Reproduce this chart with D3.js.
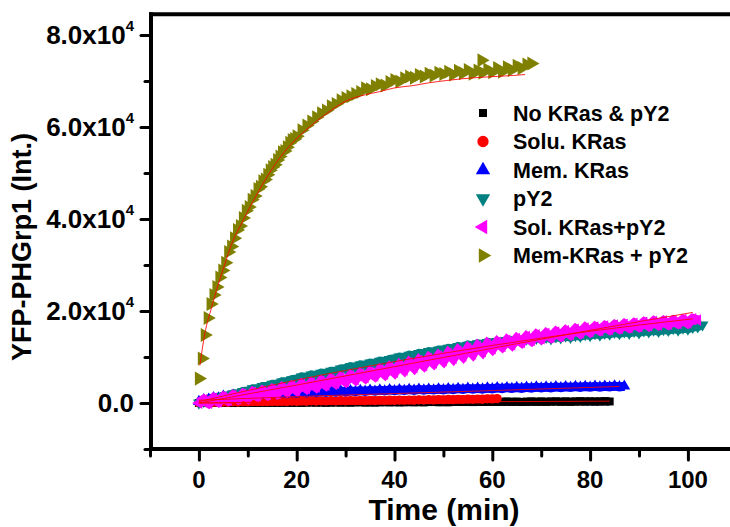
<!DOCTYPE html>
<html><head><meta charset="utf-8">
<script src="https://cdn.jsdelivr.net/npm/d3@7"></script>
<style>
html,body{margin:0;padding:0;background:#fff;}
svg{display:block;font-family:Arial,"Liberation Sans",sans-serif;font-weight:bold;}
</style></head>
<body><svg id="c" width="730" height="527"></svg>
<script>
// ---- data (time in min = array index unless given) ----
const seriesNames = ["No KRas & pY2","Solu. KRas","Mem. KRas","pY2","Sol. KRas+pY2","Mem-KRas + pY2"];
const xTicks = [0,20,40,60,80,100];
const yTicks = [0,20000,40000,60000,80000];

const blackVals = [0,40,-30,20,60,10,50,-10,40,80,
 30,70,20,90,50,100,40,80,120,70,
 110,60,100,140,90,130,80,120,160,110,
 150,100,140,180,130,170,120,160,200,150,
 190,140,180,220,170,210,160,200,240,190,
 230,180,220,260,210,250,200,240,280,230,
 270,220,260,300,250,290,240,280,320,270,
 310,260,300,340,290,330,280,320,360,310,
 350,300,340,380,330];
const redVals = [0,100,50,170,120,220,160,260,200,290,
 240,320,270,350,300,370,320,400,350,420,
 370,440,390,460,410,480,430,500,450,520,
 470,540,490,560,510,580,530,600,550,620,
 570,640,590,660,610,690,640,720,670,750,
 700,780,730,810,760,840,790,870,830,910,
 880,960];
const blueVals = [300,700,800,1150,1100,1450,1350,1650,1520,1800,
 1660,1900,1750,2050,1880,2150,1960,2250,2050,2300,
 2150,2380,2200,2430,2270,2500,2320,2560,2380,2620,
 2420,2650,2470,2700,2520,2750,2570,2800,2620,2850,
 2670,2880,2710,2920,2750,2960,2790,3000,2830,3050,
 2870,3090,2910,3130,2950,3170,2990,3210,3030,3250,
 3070,3290,3110,3330,3150,3370,3190,3410,3230,3450,
 3270,3480,3300,3510,3330,3540,3360,3570,3390,3600,
 3420,3630,3450,3650,3480,3680,3500,3650];
const tealVals = [0,400,500,1000,1000,1500,1500,2000,2000,2500,
 2600,3100,3100,3600,3600,4100,4100,4600,4600,5100,
 5200,5700,5600,6100,6000,6500,6400,6900,6900,7400,
 7500,7900,7800,8300,8200,8700,8600,9100,9000,9500,
 9600,10000,9900,10400,10300,10800,10700,11200,11100,11500,
 11500,11900,11800,12300,12100,12600,12400,12900,12700,13200,
 13000,13400,13200,13600,13400,13800,13500,13900,13700,14100,
 13900,14300,14000,14400,14200,14600,14300,14700,14500,14900,
 14700,15100,14800,15200,15000,15400,15100,15500,15200,15600,
 15300,15700,15500,15900,15600,16000,15800,16200,15900,16300,
 16100,16500,16600,17000];
const pinkVals = [0,700,0,1000,300,1300,600,1600,900,1900,
 1100,2300,1500,2600,1800,2900,2100,3300,2500,3600,
 2800,4000,3200,4300,3500,4700,3900,5100,4300,5500,
 4700,5900,5100,6300,5500,6700,5900,7200,6300,7700,
 6700,8200,7200,8700,7700,9200,8200,9700,8700,10200,
 9200,10800,9700,11300,10200,11800,10700,12300,11200,12800,
 11800,13200,12300,13600,12700,14000,13200,14400,13600,14800,
 14000,15100,14300,15400,14600,15700,14900,16000,15200,16300,
 15500,16500,15800,16700,16000,16900,16200,17100,16400,17300,
 16600,17500,16800,17700,17000,17800,17100,17900,17300,18100,
 17400,18300,18000];
const oliveT = [0,0.6,1.2,1.8,2.4,3,3.6,4.2,4.8,5.4,6,6.6,7.2,7.8,8.4,9,9.6,10.2,10.8,11.4,
 12,12.5,13,13.5,14,14.5,15,15.5,16,16.5,17,17.5,18,18.5,19,19.5,20,21,22,23,24,25,26,27,28,29,30,31,32,33,34,35,36,37,38,39,40,
 41,42,43,44,45,46,47,48,49,50,51,52,53,54,55,56,57,57.8,58,59,60,61,62,63,64,65,66,67,68];
const oliveVals = [5300,9700,14800,18500,21500,23500,25200,27300,28800,30500,32800,34000,35800,37600,38500,40200,41800,42600,44200,45000,
 46500,47000,48200,48600,49600,50600,51300,51800,52800,53600,54500,54800,55600,56600,57200,57400,58000,59300,60300,61200,62100,63000,63600,64500,65000,65800,66300,66700,67200,67600,68400,68200,68900,69300,69000,69800,70200,
 69900,70600,71000,70700,71300,71000,71600,71200,71800,71500,72000,71400,72200,71700,72400,71600,72300,74500,71800,72500,71900,72800,72000,73000,72400,73300,72800,73600,73800];

// fit curves
const fitBlackT = [0,84], fitBlackV = [0,400];
const fitRedT = [0,61], fitRedV = [0,950];
const fitBlueT = [0,10,20,40,60,86], fitBlueV = [600,1000,1400,2050,2700,3600];
const fitTealT = [0,20,40,60,80,101], fitTealV = [300,5000,9000,12500,15600,18300];
const fitPinkT = [0,20,40,60,80,101], fitPinkV = [0,3900,7900,11900,15800,19700];
const fitOliveT = [0.2,1.2,2.6,4,5.3,6.7,8.7,10.8,13,16.6,20,23.4,27,30.2,34,37,40,43.8,47,50.6,54,57.5,61,64.3,66.7];
const fitOliveV = [8150,15000,20800,25900,30200,34600,39000,43300,47500,53400,57500,60700,63600,65700,67000,67700,68500,69000,69600,70100,70500,70800,71000,71200,71400];

const colors = ["#000000","#ff0000","#0000ff","#008080","#ff00ff","#808000"];

// ---- drawing ----
const svg = d3.select("#c");
const x = d3.scaleLinear().domain([-10,110]).range([150, 150+120*4.89]);
const y = d3.scaleLinear().domain([-10000,84500]).range([449,14.3]);

const byIndex = vals => vals.map((v,i)=>({t:i,v}));
const zip = (ts,vs) => ts.map((t,i)=>({t,v:vs[i]}));

const sym = (type,size,rot) => ({type,size,rot});
const markers = [
  sym(d3.symbolSquare,64,0),
  sym(d3.symbolCircle,66,0),
  sym(d3.symbolTriangle,60,0),
  sym(d3.symbolTriangle,60,180),
  sym(d3.symbolTriangle,60,-90),
  sym(d3.symbolTriangle,85,90)
];
const bandWidth = [8,8,9,9,10,0];
const data = [byIndex(blackVals),byIndex(redVals),byIndex(blueVals),byIndex(tealVals),byIndex(pinkVals),zip(oliveT,oliveVals)];

const plot = svg.append("g");
const rawLine = d3.line().x(p=>x(p.t)).y(p=>y(p.v));
data.forEach((d,k)=>{
  const m = markers[k];
  if (bandWidth[k] > 0) {
    plot.append("path").attr("d",rawLine(d)).attr("fill","none")
      .attr("stroke",colors[k]).attr("stroke-width",bandWidth[k]).attr("stroke-linejoin","miter");
  }
  const path = d3.symbol().type(m.type).size(m.size)();
  plot.append("g").selectAll("path").data(d).join("path")
    .attr("d",path)
    .attr("fill",colors[k])
    .attr("transform",p=>`translate(${x(p.t)},${y(p.v)}) rotate(${m.rot})`);
});

const fits = [zip(fitBlackT,fitBlackV),zip(fitRedT,fitRedV),zip(fitBlueT,fitBlueV),zip(fitTealT,fitTealV),zip(fitPinkT,fitPinkV),zip(fitOliveT,fitOliveV)];
const line = d3.line().x(p=>x(p.t)).y(p=>y(p.v)).curve(d3.curveMonotoneX);
fits.forEach(f=>{
  plot.append("path").attr("d",line(f)).attr("fill","none")
    .attr("stroke","#ff0000").attr("stroke-width",1).attr("stroke-opacity",0.85);
});

// axes
const yAxisG = svg.append("g").attr("transform","translate(151,0)");
yAxisG.call(d3.axisLeft(y).tickValues(d3.range(-10000,80001,10000)).tickSize(0).tickFormat(""));
yAxisG.select(".domain").remove();
yAxisG.selectAll(".tick line").attr("x1",d=> (d%20000===0? -10 : -6)).attr("x2",0)
  .attr("stroke","#000").attr("stroke-width",3).attr("stroke-linecap","round");
yAxisG.selectAll(".tick text").remove();

const xAxisG = svg.append("g").attr("transform","translate(0,449)");
xAxisG.call(d3.axisBottom(x).tickValues(d3.range(-10,101,10)).tickSize(0).tickFormat(""));
xAxisG.select(".domain").remove();
xAxisG.selectAll(".tick line").attr("y1",0).attr("y2",d=> (d%20===0? 11 : 7))
  .attr("stroke","#000").attr("stroke-width",3).attr("stroke-linecap","round");
xAxisG.selectAll(".tick text").remove();

// frame lines
svg.append("line").attr("x1",151).attr("x2",151).attr("y1",12.3).attr("y2",451).attr("stroke","#000").attr("stroke-width",4);
svg.append("line").attr("x1",149).attr("x2",730).attr("y1",449).attr("y2",449).attr("stroke","#000").attr("stroke-width",4);
svg.append("line").attr("x1",149).attr("x2",730).attr("y1",14.3).attr("y2",14.3).attr("stroke","#000").attr("stroke-width",4);

// tick labels
yTicks.forEach(v=>{
  const t = svg.append("text").attr("x",134).attr("y",y(v)+9).attr("text-anchor","end")
    .attr("font-size",26);
  if (v===0) { t.text("0.0"); }
  else {
    t.append("tspan").text((v/10000).toFixed(1)+"x10");
    t.append("tspan").attr("font-size",15).attr("dy",-13).text("4");
  }
});
xTicks.forEach(v=>{
  svg.append("text").attr("x",x(v)).attr("y",487.5).attr("text-anchor","middle")
    .attr("font-size",24).text(v);
});

// axis titles
svg.append("text").attr("x",444).attr("y",520).attr("text-anchor","middle")
  .attr("font-size",30).text("Time (min)");
svg.append("text").attr("transform","translate(31,247) rotate(-90)").attr("text-anchor","middle")
  .attr("font-size",27).text("YFP-PHGrp1 (Int.)");

// legend
const lg = svg.append("g");
seriesNames.forEach((name,k)=>{
  const yy = 113 + k*28.5;
  const m = markers[k];
  const legSize = [64,100,90,90,90,90][k];
  lg.append("path").attr("d",d3.symbol().type(m.type).size(legSize)())
    .attr("fill",colors[k]).attr("transform",`translate(483,${yy}) rotate(${m.rot})`);
  lg.append("text").attr("x",513).attr("y",yy+7.5).attr("font-size",21.5).text(name);
});
</script>
</body></html>
